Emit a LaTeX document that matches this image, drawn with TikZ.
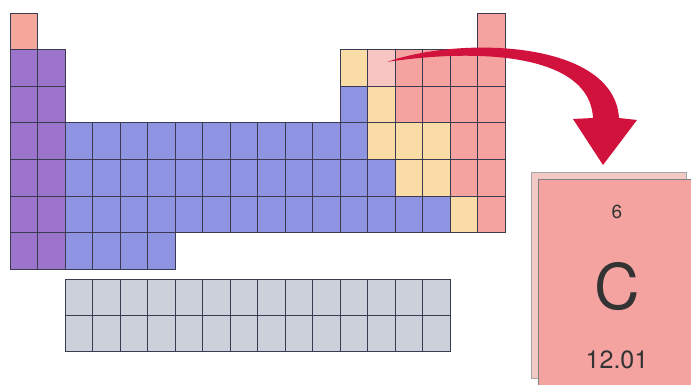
\documentclass[tikz,border=0pt]{standalone}
\usepackage{fontspec}
\setmainfont{TeX Gyre Heros}
\usetikzlibrary{positioning}

\definecolor{gridline}{HTML}{3A3A50}
\definecolor{hred}{HTML}{F5A899}
\definecolor{purp}{HTML}{9C74CB}
\definecolor{blu}{HTML}{8E93E2}
\definecolor{yel}{HTML}{FADDA6}
\definecolor{sal}{HTML}{F5A3A0}
\definecolor{pale}{HTML}{F7C6C2}
\definecolor{lgrey}{HTML}{CBD0DA}
\definecolor{arrowred}{HTML}{D0123C}
\definecolor{backcard}{HTML}{F3C9C5}

% one cell of the main table: column, row, colour
\newcommand{\elem}[3]{\node[cell, fill=#3] (e-#1-#2) at ({10+(#1-1)*27.5},{13+(#2-1)*36.6}) {};}

\begin{document}
\begin{tikzpicture}[x=1pt, y=-1pt,
  every node/.style={inner sep=0pt, outer sep=0pt},
  cell/.style={draw=gridline, line width=0.7pt, anchor=north west,
    minimum width=27.5pt, minimum height=36.6pt},
  fcell/.style={cell, fill=lgrey, minimum height=36pt},
  label/.style={text=black!80}]

  \useasboundingbox (0,0) rectangle (691,385);

  % s-block
  \elem{1}{1}{hred}
  \foreach \r in {2,...,7}
    \foreach \c in {1,2}
      \elem{\c}{\r}{purp};

  % d-block
  \foreach \r in {4,5,6}
    \foreach \c in {3,...,12}
      \elem{\c}{\r}{blu};
  \foreach \c in {3,...,6}
    \elem{\c}{7}{blu};

  % p-block
  \elem{18}{1}{sal}
  \foreach \c/\r/\col in {13/2/yel, 14/2/pale, 15/2/sal, 16/2/sal, 17/2/sal, 18/2/sal,
                          13/3/blu, 14/3/yel, 15/3/sal, 16/3/sal, 17/3/sal, 18/3/sal,
                          13/4/blu, 14/4/yel, 15/4/yel, 16/4/yel, 17/4/sal, 18/4/sal,
                          13/5/blu, 14/5/blu, 15/5/yel, 16/5/yel, 17/5/sal, 18/5/sal,
                          13/6/blu, 14/6/blu, 15/6/blu, 16/6/blu, 17/6/yel, 18/6/sal}
    \elem{\c}{\r}{\col};

  % f-block
  \foreach \r in {1,2}
    \foreach \c in {1,...,14}
      \node[fcell] (f-\c-\r) at ({65+(\c-1)*27.5},{279+(\r-1)*36}) {};

  % carbon card
  \node[draw=gray!70, fill=backcard, anchor=north west,
    minimum width=155pt, minimum height=206pt] (back) at (531,172) {};
  \node[fill=sal, anchor=north west,
    minimum width=153pt, minimum height=206pt] (card) at (538,179) {};
  \draw[gray, line width=0.6pt] (card.south west) |- (card.north east);

  \node[label, font=\fontsize{19}{19}\selectfont] (num) at (617,212) {6};
  \node[label, font=\fontsize{63}{63}\selectfont] (sym) at (617,287) {C};
  \node[label, font=\fontsize{25}{25}\selectfont] (mass) at (617,360) {12.01};

  % arrow from carbon to its card
  \coordinate (tail) at ([shift={(6,-6)}]e-14-2.center);
  \coordinate (tip) at ([shift={(-11.5,-14)}]card.north);
  \fill[arrowred] (tail) .. controls (460,36) and (614,40) .. (619,118)
    -- (637,120) -- (tip) -- (573,119) -- (593,118)
    .. controls (590,54) and (480,48) .. (tail) -- cycle;
\end{tikzpicture}
\end{document}
